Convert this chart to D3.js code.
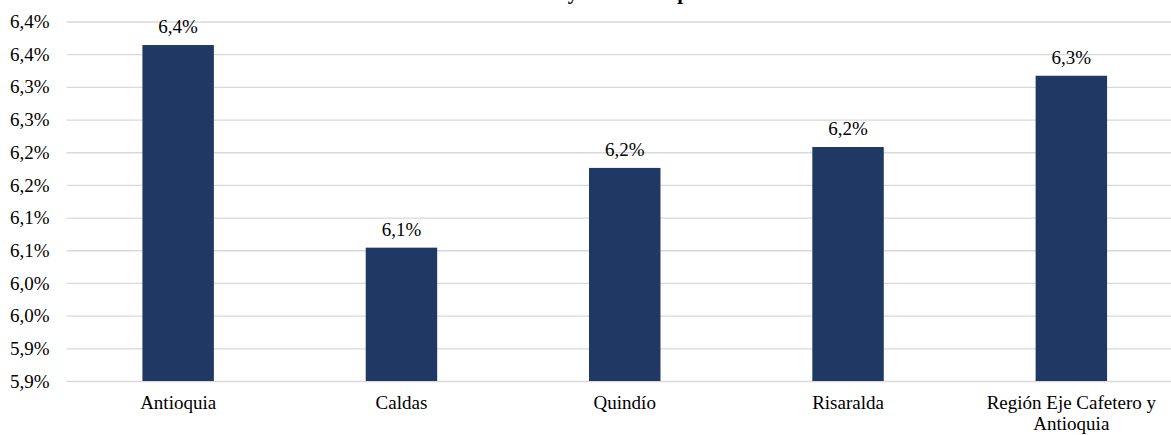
<!DOCTYPE html>
<html>
<head>
<meta charset="utf-8">
<script src="https://cdn.jsdelivr.net/npm/d3@7"></script>
<style>
  html, body { margin: 0; padding: 0; background: #fff; }
</style>
</head>
<body>
<svg id="chart" width="1171" height="435"></svg>
<script>
// ---- data ----
const categories = ["Antioquia", "Caldas", "Quindío", "Risaralda", "Región Eje Cafetero y Antioquia"];
const values = [6.364, 6.054, 6.176, 6.208, 6.317];
const yTickValues = [5.85, 5.90, 5.95, 6.00, 6.05, 6.10, 6.15, 6.20, 6.25, 6.30, 6.35, 6.40];
const yTickLabels = ["5,9%", "5,9%", "6,0%", "6,0%", "6,1%", "6,1%", "6,2%", "6,2%", "6,3%", "6,3%", "6,4%", "6,4%"];
const titleText = "Tasa de variación anual y trimestral por área";

// ---- layout ----
const plot = { left: 66.5, right: 1183, top: 21.5, bottom: 381 };
const barColor = "#203864";
const gridColor = "#d9d9d9";
const FONT = "'Liberation Serif', 'Times New Roman', Tinos, serif";
const FS = 19;

const svg = d3.select("#chart");

const x = d3.scaleBand()
  .domain(categories)
  .range([plot.left, plot.right])
  .paddingInner(0.68)
  .paddingOuter(0.34);

const y = d3.scaleLinear()
  .domain([yTickValues[0], yTickValues[yTickValues.length - 1]])
  .range([plot.bottom, plot.top]);

// title (mostly above the visible area, as in the reference)
const title = svg.append("text")
  .attr("x", 0)
  .attr("y", -1.5)
  .attr("font-size", 20)
  .attr("font-weight", "bold")
  .style("font-family", FONT)
  .attr("fill", "#000")
  .text(titleText);
{
  const node = title.node();
  const iy = titleText.indexOf(" y ") + 1;
  const ip = titleText.indexOf("por");
  const ex = node.getExtentOfChar(iy), ep = node.getExtentOfChar(ip);
  const cy = ex.x + ex.width / 2, cp = ep.x + ep.width / 2;
  const s = 110 / (cp - cy);
  title.attr("font-size", 20 * s);
  const ex2 = node.getExtentOfChar(iy);
  title.attr("x", 573 - (ex2.x + ex2.width / 2));
}

// gridlines + y labels
const yAxis = d3.axisLeft(y)
  .tickValues(yTickValues)
  .tickSize(-(plot.right - plot.left))
  .tickPadding(17)
  .tickFormat((d, i) => yTickLabels[i]);

const gy = svg.append("g")
  .attr("transform", `translate(${plot.left},0)`)
  .call(yAxis);
gy.select(".domain").remove();
gy.selectAll(".tick line").attr("stroke", gridColor).attr("stroke-width", 1.3);
gy.selectAll(".tick text")
  .attr("font-size", FS)
  .attr("fill", "#000")
  .style("font-family", FONT);

// bars
svg.append("g")
  .selectAll("rect")
  .data(values)
  .join("rect")
  .attr("x", (d, i) => x(categories[i]))
  .attr("width", x.bandwidth())
  .attr("y", d => y(d))
  .attr("height", d => plot.bottom - y(d))
  .attr("fill", barColor);

// data labels
svg.append("g")
  .selectAll("text")
  .data(values)
  .join("text")
  .attr("x", (d, i) => x(categories[i]) + x.bandwidth() / 2)
  .attr("y", d => y(d) - 11.7)
  .attr("text-anchor", "middle")
  .attr("font-size", FS)
  .style("font-family", FONT)
  .attr("fill", "#000")
  .text(d => d.toFixed(1).replace(".", ",") + "%");

// x axis labels (wrapped)
const xLabels = svg.append("g");
categories.forEach(c => {
  const cx = x(c) + x.bandwidth() / 2;
  const lines = c === "Región Eje Cafetero y Antioquia" ? ["Región Eje Cafetero y", "Antioquia"] : [c];
  const t = xLabels.append("text")
    .attr("text-anchor", "middle")
    .attr("font-size", FS)
    .style("font-family", FONT)
    .attr("fill", "#000");
  lines.forEach((ln, k) => {
    t.append("tspan").attr("x", cx).attr("y", 408.7 + k * 20.8).text(ln);
  });
});
</script>
</body>
</html>
